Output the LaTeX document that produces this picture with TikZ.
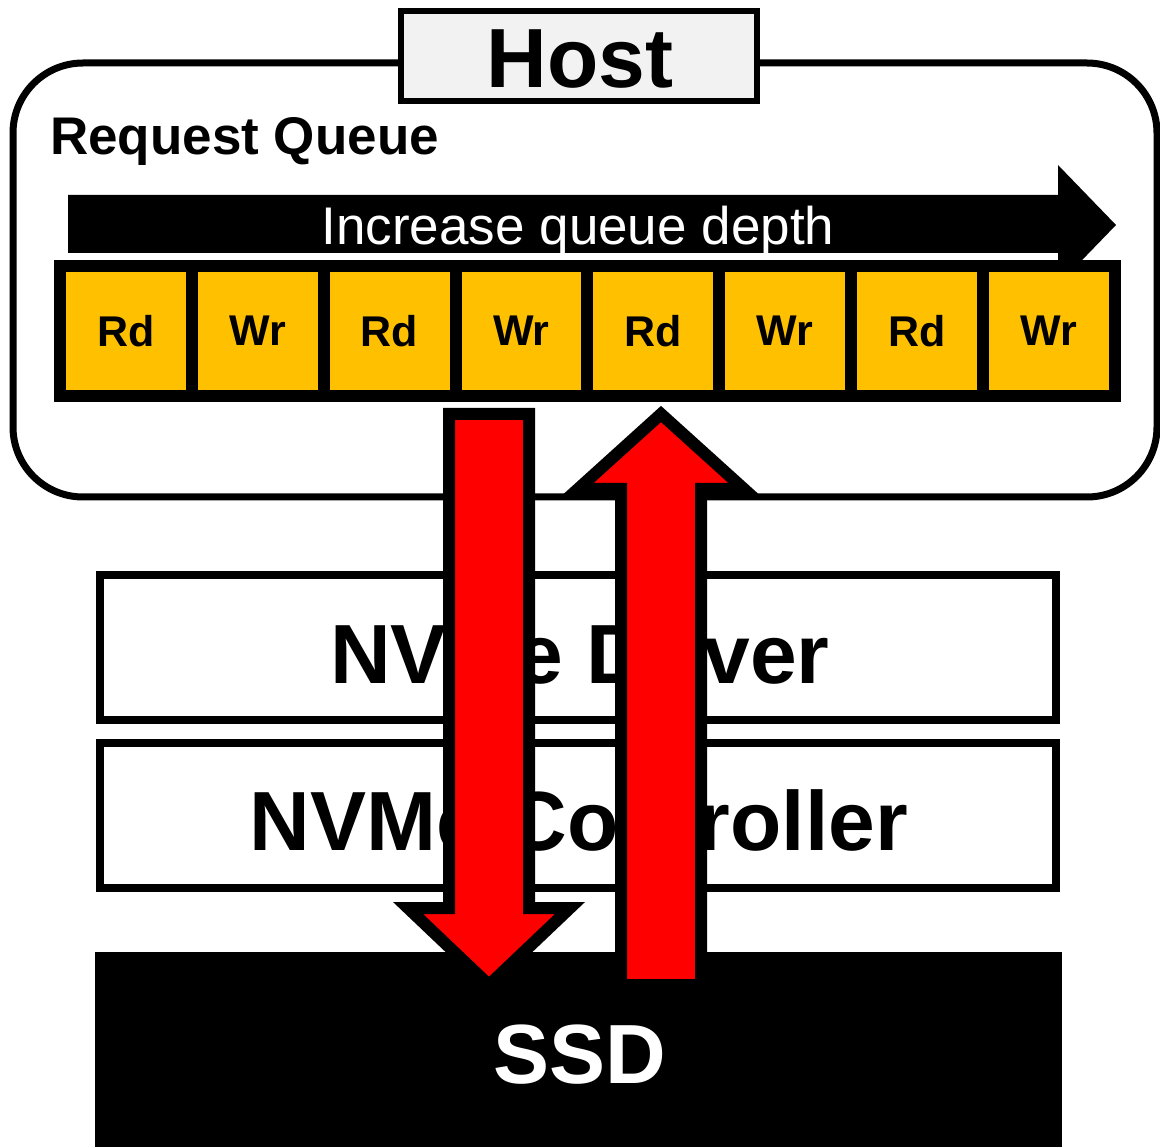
\documentclass[tikz,border=0pt]{standalone}
\usepackage{fontspec}
\setmainfont{Liberation Sans}
\definecolor{qyellow}{HTML}{FFC000}
\definecolor{hostgray}{HTML}{F2F2F2}
\definecolor{arrred}{HTML}{FF0000}
\begin{document}
\begin{tikzpicture}[x=1pt,y=-1pt,
  hostframe/.style={draw=black,line width=7pt,rounded corners=70pt,minimum width=1144pt,minimum height=434pt,inner sep=0pt},
  hostlabel/.style={draw=black,line width=6pt,fill=hostgray,minimum width=356pt,minimum height=90pt,inner sep=0pt},
  layer/.style={draw=black,line width=8pt,fill=white,minimum width=956pt,minimum height=145pt,inner sep=0pt},
  cell/.style={draw=black,line width=12pt,fill=qyellow,minimum width=131.8pt,minimum height=130pt,inner sep=0pt,font=\bfseries\fontsize{43}{43}\selectfont},
  bigtxt/.style={anchor=base,font=\bfseries\fontsize{84}{84}\selectfont},
  redarrow/.style={fill=arrred,draw=black,line width=12pt,miter limit=10}
]
\useasboundingbox (0,0) rectangle (1160,1147);
% host frame
\node[hostframe] (host) at (585,280) {};
\node[hostlabel] (hostlbl) at (579,56) {};
\node[bigtxt] (hosttxt) at (580,88) {Host};
\node[anchor=base west,font=\bfseries\fontsize{53}{53}\selectfont,inner sep=0pt] (rq) at (50,155) {Request Queue};
% queue depth arrow
\fill[black] (68,195) -- (1058,195) -- (1058,165) -- (1116,225) -- (1058,285) -- (1058,253) -- (68,253) -- cycle;
\node[anchor=base,text=white,font=\fontsize{53}{53}\selectfont,inner sep=0pt] (depth) at (578,245) {Increase queue depth};
% queue cells
\foreach \t [count=\i from 0] in {Rd,Wr,Rd,Wr,Rd,Wr,Rd,Wr}
  \node[cell] (c\i) at (126+131.8*\i,331) {\t};
% layers
\node[layer] (drv) at (578,647.5) {};
\node[bigtxt] (drvtxt) at (580,683) {NVMe Driver};
\node[layer] (ctl) at (578,815.5) {};
\node[bigtxt] (ctltxt) at (579,850) {NVMe Controller};
\node[fill=black,minimum width=967pt,minimum height=200pt,inner sep=0pt] (ssd) at (578.5,1052) {};
\node[bigtxt,text=white] (ssdtxt) at (580,1083) {SSD};
% red arrows
\draw[redarrow] (449,414) -- (529,414) -- (529,908) -- (570,908) -- (489,985) -- (408,908) -- (449,908) -- cycle;
\draw[redarrow] (621,985) -- (621,489) -- (578,489) -- (661,414) -- (744,489) -- (701,489) -- (701,985) -- cycle;
\end{tikzpicture}
\end{document}
